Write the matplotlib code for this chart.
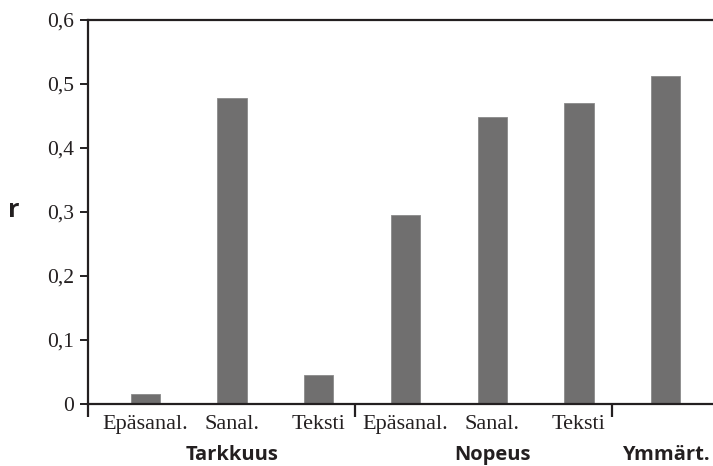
import matplotlib
matplotlib.use("Agg")
import matplotlib.pyplot as plt
from matplotlib.transforms import blended_transform_factory

# data
categories = ["Epäsanal.", "Sanal.", "Teksti", "Epäsanal.", "Sanal.", "Teksti", ""]
values = [0.015, 0.478, 0.045, 0.296, 0.448, 0.471, 0.512]
groups = ["Tarkkuus", "Nopeus", "Ymmärt."]
group_centers = [1, 4, 6]
group_edges = [-0.66, 2.42, 5.38]
yticks = [0, 0.1, 0.2, 0.3, 0.4, 0.5, 0.6]
ytick_labels = ["0", "0,1", "0,2", "0,3", "0,4", "0,5", "0,6"]

BAR = "#706f6f"
INK = "#231f20"
serif = "Liberation Serif"
sans = "Open Sans"

fig = plt.figure(figsize=(7.13, 4.66), dpi=100)
ax = fig.add_axes([88 / 713, 62 / 466, 1 - 88 / 713, 384 / 466])

x = list(range(len(values)))
ax.bar(x, values, width=0.335, color=BAR, edgecolor="#8a8a8a", linewidth=0.6)

ax.set_xlim(-0.66, 6.545)
ax.set_ylim(0, 0.6)

for side in ("left", "bottom", "top"):
    ax.spines[side].set_color(INK)
    ax.spines[side].set_linewidth(1.6)
ax.spines["right"].set_visible(False)

ax.set_yticks(yticks)
ax.set_yticklabels(ytick_labels, fontfamily=serif, fontsize=15.5, color=INK)
ax.tick_params(axis="y", direction="out", length=6, width=1.4, color=INK, pad=4)

ax.set_xticks(x)
ax.set_xticklabels(categories, fontfamily=serif, fontsize=16, color=INK)
ax.tick_params(axis="x", which="major", length=0, pad=8)
ax.set_xticks(group_edges, minor=True)
ax.tick_params(axis="x", which="minor", direction="out", length=9, width=1.6, color=INK)

# group names under the category labels
trans = blended_transform_factory(ax.transData, ax.transAxes)
for g, c in zip(groups, group_centers):
    ax.text(c, -0.132, g, transform=trans, ha="center", va="center",
            fontfamily=sans, fontweight="bold", fontsize=14.5, color=INK)

ax.text(-0.118, 0.503, "r", transform=ax.transAxes, ha="center", va="center",
        fontfamily=sans, fontweight="bold", fontsize=18, color=INK)

fig.savefig("out.png", dpi=100)
